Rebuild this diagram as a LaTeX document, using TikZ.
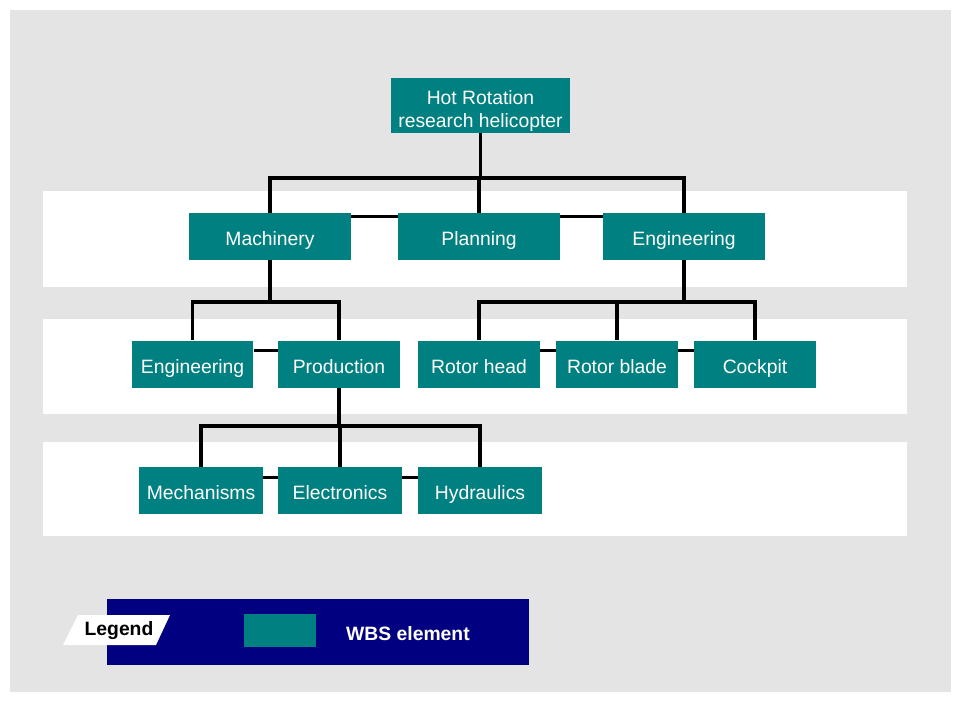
\documentclass[tikz,border=0pt]{standalone}
\usepackage{fontspec}
\setmainfont{Liberation Sans}
\usepackage{tikz}
\definecolor{wbsteal}{HTML}{008080}
\definecolor{wbsnavy}{HTML}{000080}
\definecolor{wbsgray}{HTML}{E4E4E4}

\begin{document}
\begin{tikzpicture}[x=0.02cm,y=-0.02cm,
  wbs/.style={fill=wbsteal,text=white,inner sep=0pt,align=center,
    font=\fontsize{11}{13.6}\selectfont,minimum height=0.94cm,
    text height=10.8pt,text depth=0pt},
  lvlone/.style={wbs,minimum width=3.24cm},
  lvltwo/.style={wbs,minimum width=2.44cm},
  lvlthree/.style={wbs,minimum width=2.48cm},
  link/.style={line width=1.8pt}]
  \useasboundingbox (0,0) rectangle (960,700);
  \fill[white] (0,0) rectangle (960,700);
  \fill[wbsgray] (10,10) rectangle (951,692);
  \fill[white] (43,191) rectangle (907,287);
  \fill[white] (43,319) rectangle (907,414);
  \fill[white] (43,442) rectangle (907,536);

  \node[wbs,minimum width=3.58cm,minimum height=1.1cm,text height=25.6pt,text depth=0pt] (top) at (480.5,105.5) {Hot Rotation\\research helicopter};

  \node[lvlone] (mach) at (270,236.5) {Machinery};
  \node[lvlone] (plan) at (479,236.5) {Planning};
  \node[lvlone] (eng) at (684,236.5) {Engineering};

  \node[lvltwo] (eng2) at (192.5,364) {Engineering};
  \node[lvltwo] (prod) at (339,364) {Production};
  \node[lvltwo] (rhead) at (479,364) {Rotor head};
  \node[lvltwo] (rblade) at (617,364) {Rotor blade};
  \node[lvltwo] (cockpit) at (755,364) {Cockpit};

  \node[lvlthree] (mech) at (201,490.5) {Mechanisms};
  \node[lvlthree] (elec) at (340,490.5) {Electronics};
  \node[lvlthree] (hydr) at (480,490.5) {Hydraulics};

  \coordinate (b1) at (480,178);
  \coordinate (b2) at (270,302);
  \coordinate (b3) at (684,302);
  \coordinate (b4) at (340,426);

  \draw[link] (top.south) -- (top.south |- b1);
  \draw[link] (mach.north) |- (b1) -| (eng.north);
  \draw[link] (plan.north) -- (plan.north |- b1);
  \draw[link] ([yshift=-0.08cm]mach.north east) -- ([yshift=-0.08cm]plan.north west);
  \draw[link] ([yshift=-0.08cm]plan.north east) -- ([yshift=-0.08cm]eng.north west);

  \draw[link] (mach.south) -- (mach.south |- b2);
  \draw[link] (eng2.north) |- (b2) -| (prod.north);
  \draw[link] (eng.south) -- (eng.south |- b3);
  \draw[link] (rhead.north) |- (b3) -| (cockpit.north);
  \draw[link] (rblade.north) -- (rblade.north |- b3);
  \draw[link] ([yshift=-0.2cm]eng2.north east) -- ([yshift=-0.2cm]prod.north west);
  \draw[link] ([yshift=-0.2cm]rhead.north east) -- ([yshift=-0.2cm]rblade.north west);
  \draw[link] ([yshift=-0.2cm]rblade.north east) -- ([yshift=-0.2cm]cockpit.north west);

  \draw[link] (prod.south) -- (prod.south |- b4);
  \draw[link] (mech.north) |- (b4) -| (hydr.north);
  \draw[link] (elec.north) -- (elec.north |- b4);
  \draw[link] ([yshift=-0.22cm]mech.north east) -- ([yshift=-0.22cm]elec.north west);
  \draw[link] ([yshift=-0.22cm]elec.north east) -- ([yshift=-0.22cm]hydr.north west);

  \fill[wbsnavy] (107,599) rectangle (529,665);
  \fill[white] (63,645) -- (78,615) -- (170,615) -- (156,645) -- cycle;
  \node[font=\fontsize{11}{13}\selectfont\bfseries] (legend) at (119,631) {Legend};
  \node[fill=wbsteal,minimum width=1.44cm,minimum height=0.66cm,inner sep=0pt] (sample) at (280,630.5) {};
  \node[text=white,font=\fontsize{11}{13}\selectfont\bfseries,anchor=west] (sampletext) at (340,634) {WBS element};
\end{tikzpicture}
\end{document}
